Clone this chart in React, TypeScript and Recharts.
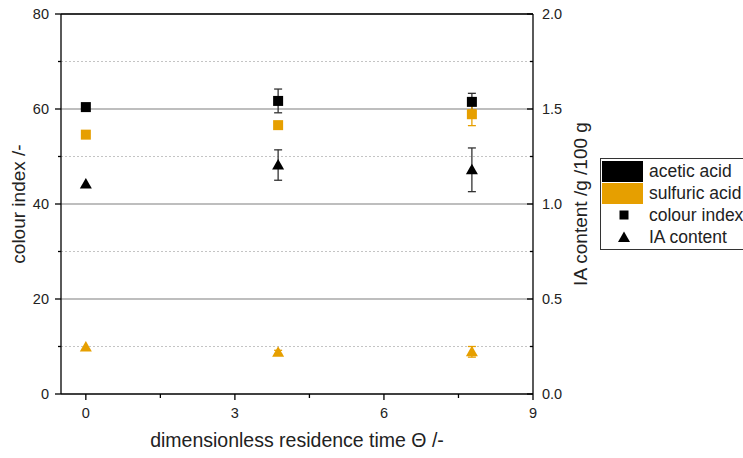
import React from 'react';
import { ComposedChart, ErrorBar, ReferenceLine, Scatter, XAxis, YAxis } from 'recharts';

const theta = [0, 3.87, 7.77];

const aceticColour = [60.4, 61.7, 61.5];
const aceticColourErr = [0, 2.5, 1.8];
const sulfuricColour = [54.6, 56.6, 58.9];
const sulfuricColourErr = [0, 0.4, 2.4];

const aceticIA = [1.105, 1.205, 1.18];
const aceticIAErr = [0, 0.08, 0.115];
const sulfuricIA = [0.247, 0.22, 0.222];
const sulfuricIAErr = [0, 0.01, 0.028];

const xTicks = [0, 1.5, 3, 4.5, 6, 7.5, 9];
const leftTicks = [0, 10, 20, 30, 40, 50, 60, 70, 80];
const rightTicks = [0, 0.25, 0.5, 0.75, 1, 1.25, 1.5, 1.75, 2];
const solidGrid = [20, 40, 60];
const dottedGrid = [10, 30, 50, 70];

const BLACK = '#000000';
const ORANGE = '#E69F00';
const FONT = '"Liberation Sans", Arial, sans-serif';

const toPoints = (ys: number[], errs: number[]) =>
  theta.map((x, i) => ({ x, y: ys[i], err: errs[i] }));

const square = (color: string) => (props: any) => (
  <rect x={props.cx - 5} y={props.cy - 5} width={10} height={10} fill={color} />
);

const triangle = (color: string) => (props: any) => {
  const { cx, cy } = props;
  return <polygon points={`${cx},${cy - 6} ${cx - 6},${cy + 4.5} ${cx + 6},${cy + 4.5}`} fill={color} />;
};

const isMajor = (v: number, step: number) => Math.abs(v / step - Math.round(v / step)) < 1e-6;

const XTick = ({ x, y, payload }: any) => {
  const major = isMajor(payload.value, 3);
  return (
    <g>
      <line x1={x} x2={x} y1={y} y2={y + (major ? 6 : 4)} stroke="#000" strokeWidth={1.3} />
      {major && (
        <text x={x} y={y + 24} textAnchor="middle" fontSize={14.5} fill="#222" fontFamily={FONT}>
          {payload.value}
        </text>
      )}
    </g>
  );
};

const LeftTick = ({ x, y, payload }: any) => {
  const major = isMajor(payload.value, 20);
  return (
    <g>
      <line x1={x} x2={x - (major ? 6 : 3)} y1={y} y2={y} stroke="#000" strokeWidth={1.3} />
      {major && (
        <text x={x - 12} y={y + 5} textAnchor="end" fontSize={14.5} fill="#222" fontFamily={FONT}>
          {payload.value}
        </text>
      )}
    </g>
  );
};

const RightTick = ({ x, y, payload }: any) => {
  const major = isMajor(payload.value, 0.5);
  return (
    <g>
      <line x1={x} x2={x - (major ? 6 : 3)} y1={y} y2={y} stroke="#000" strokeWidth={1.3} />
      {major && (
        <text x={x + 9} y={y + 5} textAnchor="start" fontSize={14.5} fill="#222" fontFamily={FONT}>
          {payload.value.toFixed(1)}
        </text>
      )}
    </g>
  );
};

const LegendBox = () => {
  const row = { display: 'flex', alignItems: 'center', height: 22 } as const;
  const icon = { width: 44, display: 'flex', justifyContent: 'center', alignItems: 'center', marginRight: 3 } as const;
  return (
    <div
      style={{
        position: 'absolute',
        left: 600,
        top: 158,
        width: 170,
        border: '1px solid #333',
        background: '#fff',
        padding: '1px 0 1px 1px',
        fontFamily: FONT,
        fontSize: 17.5,
        color: '#222',
      }}
    >
      <div style={row}>
        <div style={{ ...icon, justifyContent: 'flex-start' }}>
          <div style={{ width: 41, height: 21, background: BLACK }} />
        </div>
        <span>acetic acid</span>
      </div>
      <div style={row}>
        <div style={{ ...icon, justifyContent: 'flex-start' }}>
          <div style={{ width: 41, height: 21, background: ORANGE }} />
        </div>
        <span>sulfuric acid</span>
      </div>
      <div style={row}>
        <div style={icon}>
          <svg width={12} height={12}>
            <rect x={1.5} y={1.5} width={9} height={9} fill={BLACK} />
          </svg>
        </div>
        <span>colour index</span>
      </div>
      <div style={row}>
        <div style={icon}>
          <svg width={14} height={12}>
            <polygon points="7,0.5 1,11 13,11" fill={BLACK} />
          </svg>
        </div>
        <span>IA content</span>
      </div>
    </div>
  );
};

export default function App() {
  return (
    <div
      style={{
        position: 'absolute',
        left: 0,
        top: 0,
        width: 743,
        height: 458,
        overflow: 'hidden',
        background: '#fff',
        fontFamily: FONT,
      }}
    >
      <ComposedChart width={743} height={458} margin={{ top: 14, right: 150, bottom: 0, left: 0 }}>
        <XAxis
          dataKey="x"
          type="number"
          domain={[-0.5, 9]}
          ticks={xTicks}
          allowDataOverflow
          height={64}
          tickSize={0}
          tickMargin={0}
          tickLine={false}
          tick={<XTick />}
          axisLine={{ stroke: '#000', strokeWidth: 1.3 }}
          label={{
            value: 'dimensionless residence time Θ /-',
            position: 'insideBottom',
            offset: 11,
            fontSize: 19.5,
            fill: '#222',
            fontFamily: FONT,
          }}
        />
        <YAxis
          yAxisId="left"
          dataKey="y"
          type="number"
          domain={[0, 80]}
          ticks={leftTicks}
          allowDataOverflow
          width={61}
          tickSize={0}
          tickMargin={0}
          tickLine={false}
          tick={<LeftTick />}
          axisLine={{ stroke: '#000', strokeWidth: 1.3 }}
          label={{
            value: 'colour index /-',
            position: 'center',
            angle: -90,
            dx: -12,
            fontSize: 19,
            fill: '#222',
            fontFamily: FONT,
          }}
        />
        <YAxis
          yAxisId="right"
          orientation="right"
          dataKey="y"
          type="number"
          domain={[0, 2]}
          ticks={rightTicks}
          allowDataOverflow
          width={60}
          tickSize={0}
          tickMargin={0}
          tickLine={false}
          tick={<RightTick />}
          axisLine={{ stroke: '#000', strokeWidth: 1.3 }}
          label={{
            value: 'IA content /g /100 g',
            position: 'center',
            angle: -90,
            dx: 17,
            fontSize: 19,
            fill: '#222',
            fontFamily: FONT,
          }}
        />

        {dottedGrid.map((v) => (
          <ReferenceLine key={`d${v}`} yAxisId="left" y={v} stroke="#c4c4c4" strokeDasharray="2 2" />
        ))}
        {solidGrid.map((v) => (
          <ReferenceLine key={`s${v}`} yAxisId="left" y={v} stroke="#a8a8a8" strokeWidth={1.5} />
        ))}
        <ReferenceLine yAxisId="left" y={80} stroke="#333" strokeWidth={2} />

        <Scatter
          name="acetic acid colour index"
          yAxisId="left"
          data={toPoints(aceticColour, aceticColourErr)}
          shape={square(BLACK)}
          isAnimationActive={false}
        >
          <ErrorBar dataKey="err" direction="y" width={4} stroke="#333" strokeWidth={1.3} />
        </Scatter>
        <Scatter
          name="sulfuric acid colour index"
          yAxisId="left"
          data={toPoints(sulfuricColour, sulfuricColourErr)}
          shape={square(ORANGE)}
          isAnimationActive={false}
        >
          <ErrorBar dataKey="err" direction="y" width={4} stroke={ORANGE} strokeWidth={1.3} />
        </Scatter>
        <Scatter
          name="acetic acid IA content"
          yAxisId="right"
          data={toPoints(aceticIA, aceticIAErr)}
          shape={triangle(BLACK)}
          isAnimationActive={false}
        >
          <ErrorBar dataKey="err" direction="y" width={4} stroke="#333" strokeWidth={1.3} />
        </Scatter>
        <Scatter
          name="sulfuric acid IA content"
          yAxisId="right"
          data={toPoints(sulfuricIA, sulfuricIAErr)}
          shape={triangle(ORANGE)}
          isAnimationActive={false}
        >
          <ErrorBar dataKey="err" direction="y" width={4} stroke={ORANGE} strokeWidth={1.3} />
        </Scatter>
      </ComposedChart>
      <LegendBox />
    </div>
  );
}
